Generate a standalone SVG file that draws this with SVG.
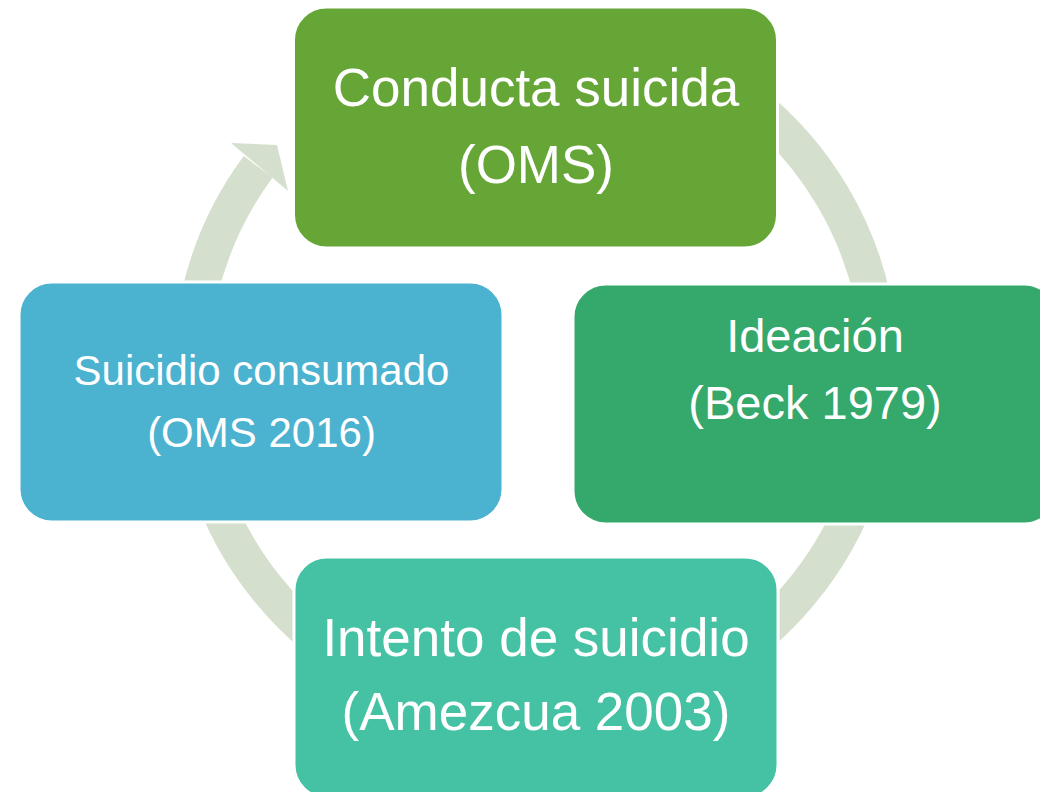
<svg xmlns="http://www.w3.org/2000/svg" width="1040" height="792" viewBox="0 0 1040 792">
<style>
.box{stroke:#ffffff;stroke-width:3}
.t{font-family:"Liberation Sans",Arial,sans-serif;fill:#ffffff;text-anchor:middle}
.ring{fill:none;stroke:#d4e0cd;stroke-width:36}
</style>
<rect width="1040" height="792" fill="#ffffff"/>
<g id="connectors">
<path class="ring" d="M 595.4 32.2 A 345 345 0 1 1 258.2 166.8"/>
<polygon points="231,143 277,145 288,191" fill="#d4e0cd"/>
</g>
<g id="node-conducta">
<rect class="box" x="293.5" y="7" width="484" height="241" rx="33" fill="#65a637"/>
<text class="t" x="536" y="106" font-size="53">Conducta suicida</text>
<text class="t" x="536" y="183" font-size="53">(OMS)</text>
</g>
<g id="node-ideacion">
<rect class="box" x="573" y="284" width="484" height="240" rx="33" fill="#35a86c"/>
<text class="t" x="815" y="352" font-size="47">Ideación</text>
<text class="t" x="815" y="419" font-size="47">(Beck 1979)</text>
</g>
<g id="node-intento">
<rect class="box" x="294" y="557" width="484" height="241" rx="33" fill="#45c2a3"/>
<text class="t" x="536" y="656" font-size="53">Intento de suicidio</text>
<text class="t" x="536" y="730" font-size="53">(Amezcua 2003)</text>
</g>
<g id="node-suicidio">
<rect class="box" x="19" y="282" width="484" height="240" rx="33" fill="#4bb2cf"/>
<text class="t" x="261.5" y="385" font-size="42">Suicidio consumado</text>
<text class="t" x="261.5" y="447" font-size="42">(OMS 2016)</text>
</g>
</svg>
